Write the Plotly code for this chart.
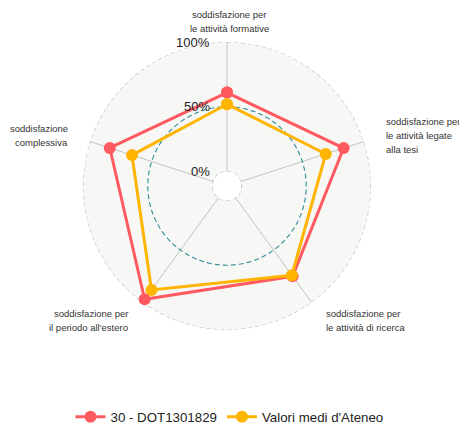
import numpy as np
import plotly.graph_objects as go

# ---- data ----
categories = [
    "soddisfazione per\nle attività formative",
    "soddisfazione per\nle attività legate\nalla tesi",
    "soddisfazione per\nle attività di ricerca",
    "soddisfazione per\nil periodo all'estero",
    "soddisfazione\ncomplessiva",
]
series_names = ["30 - DOT1301829", "Valori medi d'Ateneo"]
values_dot = [0.61, 0.835, 0.75, 0.97, 0.84]
values_ateneo = [0.52, 0.69, 0.74, 0.88, 0.66]
grid_values = [0.0, 0.5, 1.0]
grid_labels = ["0%", "50%", "100%"]

colors = ["#FF5A5F", "#FFB400"]
W, H = 459, 425
CX, CY, R = 227, 186, 144
HOLE = 0.1

n = len(categories)
theta = [i * 360 / n for i in range(n)]

fig = go.Figure()

# grid circles
circ_t = np.linspace(0, 360, 361)
grid_styles = [("#B8B8B8", "4px,3px", 1.2), ("#2F8C97", "5px,3px", 1.1),
               ("#B8B8B8", "4px,3px", 1.2)]
for gv, (gc, gd, gw) in zip(grid_values, grid_styles):
    fig.add_trace(go.Scatterpolar(
        r=[gv] * len(circ_t), theta=circ_t, mode="lines",
        line=dict(color=gc, width=gw, dash=gd), showlegend=False,
        hoverinfo="skip", cliponaxis=False))

for name, vals, col in zip(series_names, [values_dot, values_ateneo], colors):
    fig.add_trace(go.Scatterpolar(
        r=vals + vals[:1], theta=theta + theta[:1], mode="lines+markers",
        name=name, line=dict(color=col, width=3),
        marker=dict(color=col, size=12), cliponaxis=False))

def px(x, y):
    return x / W, 1 - y / H

annotations = []
# radial tick labels
for gv, gl in zip(grid_values, grid_labels):
    rr = R * (HOLE + (1 - HOLE) * gv)
    x, y = px(CX - 15, CY - rr)
    annotations.append(dict(x=x, y=y, xref="paper", yref="paper", text=gl,
                            showarrow=False, xanchor="right", yanchor="middle",
                            font=dict(size=13, color="#222")))

# axis label anchors (pixel positions, alignment)
label_pos = [
    (229, [14.3, 28.2], "center"),
    (383.5, [121.7, 135.7, 149.7], "left"),
    (324.3, [313.3, 327.3], "left"),
    (129.5, [313.3, 327.3], "right"),
    (70.3, [128.3, 142.7], "right"),
]
for cat, (lx, ys, anc) in zip(categories, label_pos):
    for line, ly in zip(cat.split("\n"), ys):
        x, y = px(lx, ly)
        annotations.append(dict(x=x, y=y, xref="paper", yref="paper", text=line,
                                showarrow=False, xanchor=anc, yanchor="middle",
                                font=dict(size=9.5, color="#333")))

fig.update_layout(
    width=W, height=H,
    margin=dict(l=0, r=0, t=0, b=0, autoexpand=False),
    paper_bgcolor="white",
    font=dict(family="Liberation Sans, Arial, sans-serif"),
    polar=dict(
        domain=dict(x=[83 / W, 371 / W], y=[1 - 330 / H, 1 - 42 / H]),
        hole=HOLE,
        bgcolor="#F7F7F6",
        radialaxis=dict(range=[0, 1], visible=False, showgrid=False),
        angularaxis=dict(rotation=90, direction="clockwise", tickmode="array",
                         tickvals=theta, showticklabels=False, ticks="",
                         showline=False, gridcolor="#C4C4C4", gridwidth=1),
    ),
    showlegend=True,
    legend=dict(orientation="h", x=0.5, xanchor="center", y=1 - 417 / H,
                yanchor="middle", font=dict(size=13.3, color="#222"),
                bgcolor="rgba(0,0,0,0)"),
    annotations=annotations,
    hovermode=False,
)

fig.write_html("out.html", config={"displayModeBar": False},
               post_script="document.body.style.margin='0';document.body.style.overflow='hidden';")
